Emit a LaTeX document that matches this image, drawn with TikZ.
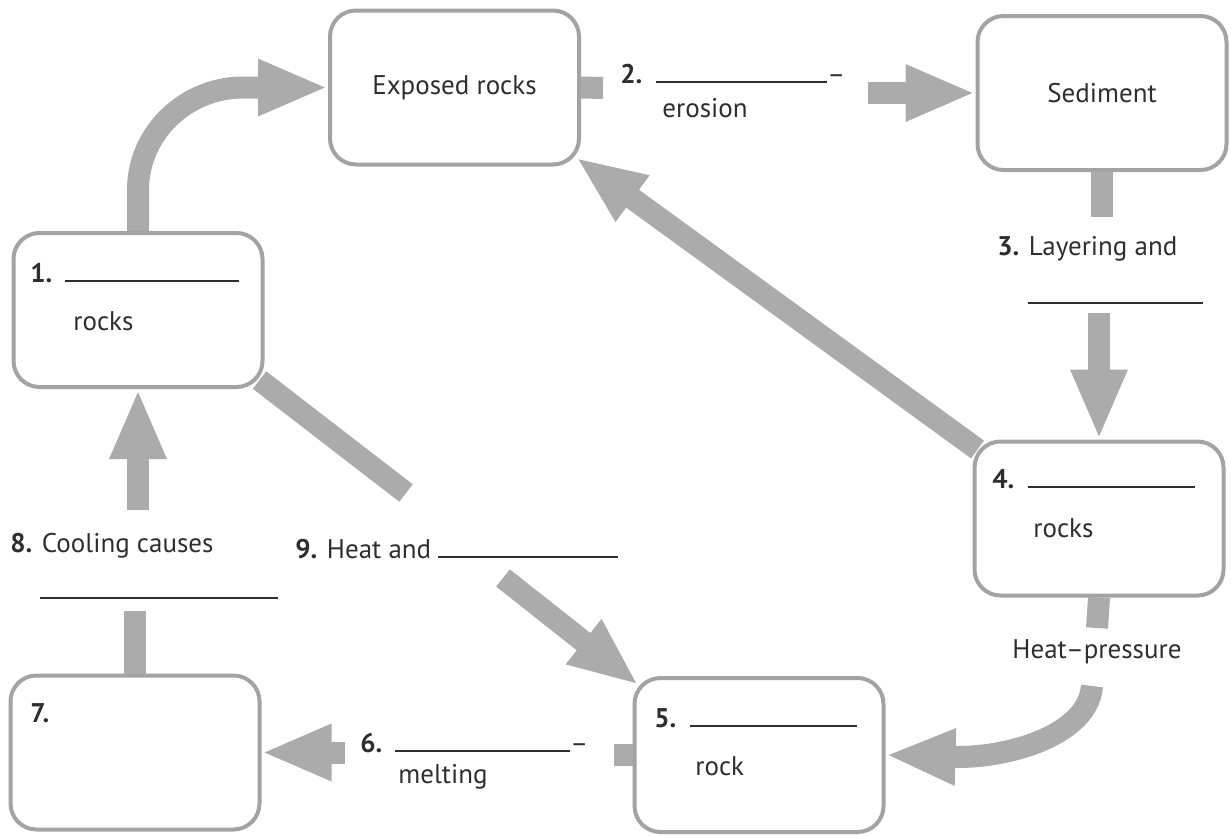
\documentclass[tikz,border=0pt]{standalone}
\usepackage{fontspec}
\setmainfont{PT Sans}
\usetikzlibrary{arrows.meta}
\usetikzlibrary{calc}
\definecolor{boxgray}{HTML}{A3A3A3}
\definecolor{flowgray}{HTML}{ABABAB}
\definecolor{inkgray}{HTML}{2E2E2E}
\newcommand{\answerline}[1]{\rule{#1}{0.8pt}}
\tikzset{box/.style = {draw=boxgray, line width=2pt, rounded corners=13pt,
                       minimum width=124.5pt, minimum height=77pt,
                       inner sep=0, text=inkgray}}
\tikzset{flow/.style = {draw=flowgray, line width=11pt}}
\tikzset{flowarrow/.style = {flow, -{Triangle[length=35pt, width=26pt]}}}
\tikzset{lbl/.style = {anchor=base west, inner sep=0, text=inkgray}}

\begin{document}
\begin{tikzpicture}[x=0.5pt, y=-0.5pt, font=\fontsize{13.5}{16}\selectfont]
    \useasboundingbox (0, 0) rectangle (1231, 835);

    \node [box] (exp) at (454.5, 87.5) {Exposed rocks};
    \node [box] (sed) at (1102, 93) {Sediment};
    \node [box] (r1) at (138, 310) {};
    \node [box] (r4) at (1099, 518.5) {};
    \node [box] (r5) at (759, 755) {};
    \node [box] (r7) at (135, 752.5) {};

    \node [lbl] (n1) at (30, 282) {\textbf{1.}\hspace{6.5pt}\answerline{87pt}};
    \node [lbl] (w1) at (73, 330) {rocks};
    \node [lbl] (n2) at (620, 83) {\textbf{2.}\hspace{7pt}\answerline{85.5pt}--};
    \node [lbl] (w2) at (662, 117) {erosion};
    \node [lbl] (n3) at (997, 255) {\textbf{3.} Layering and};
    \node [lbl] (b3) at (1028, 304) {\answerline{87.5pt}};
    \node [lbl] (n4) at (992, 488) {\textbf{4.}\hspace{7pt}\answerline{83.5pt}};
    \node [lbl] (w4) at (1033, 537) {rocks};
    \node [anchor=base, inner sep=0, text=inkgray] (hp) at (1097, 658) {Heat--pressure};
    \node [lbl] (n5) at (654, 727) {\textbf{5.}\hspace{7pt}\answerline{83.5pt}};
    \node [lbl] (w5) at (695, 775) {rock};
    \node [lbl] (n6) at (360, 752) {\textbf{6.}\hspace{6.5pt}\answerline{87.5pt}--};
    \node [lbl] (w6) at (398, 783) {melting};
    \node [lbl] (n7) at (30, 722) {\textbf{7.}};
    \node [lbl] (n8) at (10, 552) {\textbf{8.} Cooling causes};
    \node [lbl] (b8) at (40, 599) {\answerline{119pt}};
    \node [lbl] (n9) at (295, 558) {\textbf{9.} Heat and \answerline{90pt}};

    \coordinate (s2) at (603, 88);
    \coordinate (t2) at (868, 93);
    \coordinate (s3) at (1102, 217);
    \coordinate (t3) at (1099, 313);
    \coordinate (s5) at (1097, 628);
    \coordinate (t5) at (1092, 686);
    \coordinate (s6) at (614, 755);
    \coordinate (t6) at (345, 752.5);
    \coordinate (s8) at (135, 611);
    \coordinate (t8) at (138, 510);
    \coordinate (s9) at (406, 493);
    \coordinate (t9) at (503, 578);

    \draw [flowarrow] (r1.north) -- (138, 190) .. controls (138, 133) and (186, 87.5) .. (243, 87.5) -- (exp.west);
    \draw [flow] (exp.east) -- (s2);
    \draw [flowarrow] (t2) -- (sed.west);
    \draw [flow] (sed.south) -- (s3);
    \draw [flowarrow] (t3) -- (r4.north);
    \draw [flowarrow] ($(r4.north west)+(5, 10)$) -- ($(exp.south east)+(-5, -9)$);
    \draw [flow] (r4.south) -- (s5);
    \draw [flowarrow] (t5) .. controls (1088, 735) and (1010, 757) .. (958, 757) -- (r5.east);
    \draw [flow] (r5.west) -- (s6);
    \draw [flowarrow] (t6) -- (r7.east);
    \draw [flow] (r7.north) -- (s8);
    \draw [flowarrow] (t8) -- (r1.south);
    \draw [flow] ($(r1.south east)+(-5, -9)$) -- (s9);
    \draw [flowarrow] (t9) -- ($(r5.north west)+(6, 9)$);
  \end{tikzpicture}
\end{document}
